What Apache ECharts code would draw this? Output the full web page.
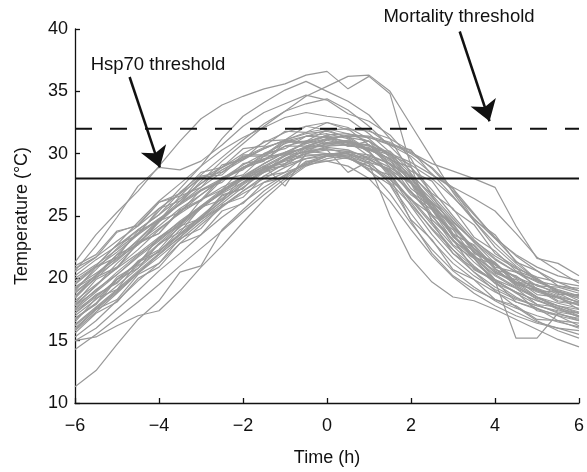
<!DOCTYPE html>
<html>
<head>
<meta charset="utf-8">
<script src="https://cdn.jsdelivr.net/npm/echarts@6/dist/echarts.min.js"></script>
<style>
html,body{margin:0;padding:0;background:#fff;}
#chart{width:587px;height:472px;}
</style>
</head>
<body>
<div id="chart"></div>
<script>
// ---- data ----
const times = [-6,-5.5,-5,-4.5,-4,-3.5,-3,-2.5,-2,-1.5,-1,-0.5,0,0.5,1,1.5,2,2.5,3,3.5,4,4.5,5,5.5,6];
const xTicks = [-6,-4,-2,0,2,4,6];
const yTicks = [10,15,20,25,30,35,40];
const hsp70Threshold = 28;
const mortalityThreshold = 32;
const hspLabel = "Hsp70 threshold";
const mortLabel = "Mortality threshold";
const xTitle = "Time (h)";
const yTitle = "Temperature (°C)";

const t01 = [21.3,23.5,25.3,27.0,29.0,31.0,32.8,33.9,34.6,35.2,35.6,36.3,36.6,35.2,36.2,34.8,29.0,24.5,22.0,20.8,19.8,18.9,18.2,17.6,17.2];
const t02 = [20.6,22.6,24.9,27.4,28.9,28.7,29.4,30.7,32.2,33.3,34.0,34.7,34.3,33.2,32.6,31.5,29.6,26.6,24.1,22.4,21.1,20.1,19.4,18.9,18.4];
const t03 = [19.1,20.7,22.4,23.9,25.1,26.9,28.3,29.7,31.1,32.4,33.4,34.6,35.4,36.2,36.3,35.0,32.3,29.6,26.9,24.6,22.5,21.0,19.8,19.0,18.5];
const t04 = [18.5,20.3,21.9,23.6,25.4,27.2,29.0,31.2,33.0,34.1,35.1,35.8,35.0,34.2,33.1,31.2,28.4,25.9,23.5,21.8,20.6,19.7,18.9,18.4,17.9];
const t05 = [17.8,19.4,21.2,22.7,24.5,26.0,27.8,29.4,30.8,32.2,33.4,34.0,34.4,33.5,32.2,30.6,28.9,27.1,25.0,23.1,21.6,20.5,19.7,19.1,18.6];
const t06 = [19.6,21.0,22.7,24.5,26.2,27.6,29.0,30.3,31.3,32.1,32.9,33.3,33.0,32.8,31.6,30.1,28.0,25.6,23.4,21.8,20.5,19.6,19.0,18.5,18.1];
const t07 = [16.8,18.0,19.4,20.8,22.2,23.6,25.0,26.4,27.7,28.9,29.8,30.6,31.1,31.5,31.4,30.9,30.1,29.2,28.6,28.0,27.3,24.2,21.6,21.2,20.2];
const t08 = [17.5,18.9,20.3,21.7,23.0,24.4,25.7,26.9,28.0,29.0,29.9,30.5,30.9,31.0,30.6,30.0,29.3,28.3,27.3,26.4,25.4,23.6,21.7,20.6,19.6];
const t09 = [16.2,17.6,19.0,20.5,21.9,23.3,24.8,26.2,27.6,28.7,29.6,30.2,30.4,30.0,29.2,25.0,21.6,19.7,18.5,18.2,17.5,16.7,15.9,15.1,14.5];
const t10 = [17.2,18.5,19.9,21.2,22.7,24.1,25.6,26.9,28.1,29.2,30.1,30.8,31.2,31.0,30.2,28.1,24.6,22.0,20.2,19.1,18.3,17.6,17.0,16.5,16.1];
const t11 = [15.8,17.3,18.8,20.4,21.9,23.3,24.7,26.0,27.3,28.5,29.5,30.3,30.8,30.9,30.4,29.4,27.8,25.6,23.4,21.6,19.8,15.2,15.2,17.2,16.6];
const t12 = [11.3,12.6,14.7,16.7,18.2,20.5,21.0,23.9,25.5,27.0,28.2,29.2,29.8,30.0,29.6,28.6,27.0,25.0,23.0,21.3,19.9,18.8,17.9,17.2,16.7];
const t13 = [15.0,15.3,16.2,17.0,17.4,19.0,20.9,22.6,24.5,26.3,27.8,29.0,29.6,29.9,29.5,28.7,27.6,26.0,24.1,22.3,20.8,19.5,18.5,17.8,17.2];
const t14 = [14.3,15.5,16.8,18.1,19.5,21.0,22.4,23.8,25.3,26.7,28.0,29.1,29.8,30.1,29.9,29.2,28.0,26.3,24.3,22.4,20.8,19.4,18.3,17.5,16.9];
const t15 = [18.0,19.9,20.8,22.9,23.6,25.5,26.3,28.1,28.7,30.0,30.4,31.4,31.3,31.4,30.3,29.6,27.2,25.9,23.3,22.2,20.4,19.9,18.7,18.5,17.8];
const t16 = [19.2,20.2,21.9,22.7,24.6,25.3,27.1,27.7,29.2,29.5,30.6,30.6,31.2,30.7,30.7,29.5,28.9,26.8,25.6,23.3,22.2,20.6,20.0,18.9,18.6];
const t17 = [17.2,18.7,19.6,21.4,22.3,24.2,24.8,26.7,27.2,28.8,29.0,30.2,30.0,30.0,28.6,27.5,24.7,23.1,20.7,19.9,18.3,17.8,16.7,16.6,16.0];
const t18 = [20.2,21.5,22.6,23.9,25.1,26.4,27.6,28.7,29.6,30.4,31.1,31.7,32.0,31.6,31.0,30.0,28.4,26.5,24.6,22.9,21.5,20.5,19.8,19.4,19.2];
const t19 = [16.5,18.4,19.1,21.3,22.1,23.9,24.8,26.6,27.2,28.9,29.2,30.5,30.6,31.1,30.3,30.2,28.6,27.8,25.5,24.3,22.0,20.9,19.1,18.5,17.5];
const t20 = [18.8,20.2,21.7,23.0,24.6,26.0,27.3,28.5,29.5,30.4,31.1,31.6,31.8,31.3,30.2,28.4,26.1,23.9,22.0,20.5,19.3,18.4,17.8,17.3,17.0];
const t21 = [15.6,17.2,18.1,20.0,20.9,22.8,23.5,25.4,26.0,27.7,28.1,29.4,29.4,29.7,28.8,28.3,26.3,25.1,22.7,21.6,19.6,18.9,17.4,17.0,16.2];
const t22 = [19.8,21.0,22.7,23.5,25.6,26.2,28.1,28.3,29.8,29.8,31.0,30.8,31.4,30.9,30.7,29.2,28.2,25.7,24.4,22.1,21.3,19.7,19.2,18.2,18.0];
const t23 = [17.6,19.1,20.3,21.8,23.2,24.6,25.8,27.1,28.1,29.0,27.4,30.0,30.5,30.3,29.6,28.5,26.9,25.0,23.1,21.6,20.2,19.2,18.4,17.8,17.3];
const t24 = [20.8,21.7,23.7,24.3,26.1,26.8,28.5,28.9,30.4,30.6,31.8,31.7,32.5,31.9,31.9,30.7,30.3,28.3,27.2,24.7,23.5,21.3,20.6,19.4,19.0];
const t25 = [16.0,17.5,18.9,20.4,21.7,23.1,24.5,25.8,27.0,28.0,28.9,29.6,30.0,29.7,28.7,26.8,24.4,22.3,20.6,19.3,18.2,17.3,16.5,16.0,15.5];
const t26 = [18.4,20.1,20.9,22.8,23.6,25.4,26.2,27.9,28.3,29.8,29.9,31.0,30.8,31.0,29.8,29.2,26.9,25.7,23.5,22.7,20.9,20.5,19.4,19.3,18.8];
const t27 = [17.0,18.3,19.9,21.3,22.8,24.3,25.6,27.0,28.2,29.2,30.1,30.9,31.5,31.6,31.3,30.7,29.8,28.4,26.6,24.6,22.8,21.2,19.9,19.0,18.2];
const t28 = [19.5,20.9,22.1,23.5,24.7,26.0,27.1,28.0,28.9,29.6,30.1,30.4,30.3,28.5,29.4,27.6,25.2,23.0,21.2,19.9,18.9,18.1,17.5,17.1,16.8];
const t29 = [16.8,17.9,19.9,20.8,22.8,23.7,25.7,26.3,28.1,28.5,29.9,30.1,31.1,30.6,30.5,29.1,28.2,25.7,24.3,22.0,21.2,19.5,19.1,18.1,17.9];
const t30 = [20.5,21.7,23.0,24.2,25.6,26.8,28.0,28.9,29.7,30.5,31.0,31.4,31.6,31.2,30.1,28.3,25.8,23.5,21.6,20.2,19.1,18.3,17.8,17.4,17.2];
const t31 = [18.2,19.5,20.8,22.0,23.3,24.5,25.7,26.8,27.7,28.5,29.1,29.6,29.8,29.6,29.0,27.9,26.4,24.5,22.6,21.0,19.6,18.5,17.6,17.0,16.6];
const t32 = [15.3,16.6,18.2,19.8,21.2,22.8,24.3,25.7,27.0,28.2,29.2,30.0,30.6,30.7,30.3,29.6,28.3,26.7,24.8,22.9,21.2,19.7,18.5,17.6,16.9];
const t33 = [19.0,20.9,21.7,23.8,24.6,26.6,27.3,29.1,29.5,31.0,31.1,32.2,31.9,32.0,30.7,30.0,27.6,26.1,23.6,22.6,20.7,20.2,19.0,18.9,18.4];
const t34 = [17.8,19.0,20.5,21.9,23.1,24.4,25.8,26.9,27.9,28.8,29.5,30.0,30.3,30.2,29.7,28.9,27.7,26.1,24.5,23.0,21.8,20.8,20.1,19.7,19.4];
const t35 = [16.3,17.7,19.1,20.6,22.0,23.5,24.9,26.2,27.5,28.6,29.6,30.5,31.2,31.4,31.3,30.8,30.0,28.9,27.2,25.2,23.2,21.4,19.9,18.8,18.0];
const t36 = [21.0,21.9,23.8,24.2,26.1,26.6,28.2,28.5,29.9,29.9,31.1,30.9,31.5,30.8,30.7,28.9,27.7,25.1,23.9,21.7,21.1,19.7,19.5,18.7,18.7];
const t37 = [17.4,18.6,19.7,21.0,22.2,23.5,24.7,25.8,26.8,27.7,28.5,29.1,29.4,29.0,28.0,26.2,23.9,21.8,20.1,18.8,17.8,17.0,16.4,16.0,15.8];
const t38 = [18.6,20.0,21.5,23.1,24.7,26.2,27.6,28.9,30.0,30.9,31.7,32.2,32.5,32.1,31.2,29.7,27.7,25.5,23.4,21.7,20.3,19.3,18.5,18.0,17.6];
const t39 = [15.9,17.5,18.3,20.3,21.2,23.2,24.0,25.9,26.5,28.2,28.5,29.9,29.9,30.2,29.3,28.8,26.7,25.5,23.0,21.9,19.9,19.2,17.9,17.7,17.0];
const t40 = [20.0,21.1,22.3,23.6,24.8,25.9,27.0,27.9,28.8,29.5,30.0,30.5,30.7,30.7,30.4,29.9,29.1,28.0,26.5,24.8,23.2,21.9,20.9,20.2,19.8];
const t41 = [16.7,18.0,20.1,21.1,23.3,24.2,26.3,27.1,28.9,29.4,30.9,31.0,31.9,31.3,31.0,29.1,27.6,24.7,23.1,20.7,19.8,18.1,17.6,16.6,16.4];
const t42 = [19.3,20.4,21.6,22.7,24.0,25.2,26.3,27.3,28.1,28.8,29.4,29.8,30.0,29.7,29.0,27.7,25.9,24.0,22.3,20.9,19.8,18.9,18.2,17.8,17.5];
const t43 = [17.9,19.4,20.9,22.3,23.9,25.3,26.7,28.0,29.1,30.0,30.8,31.4,31.9,32.0,31.8,31.2,30.2,28.8,27.0,25.1,23.3,21.8,20.6,19.7,19.0];
const t44 = [15.0,16.0,17.5,19.0,20.6,22.0,23.5,24.9,26.1,27.3,28.3,29.3,29.9,29.8,29.2,28.0,26.3,24.3,22.3,20.5,19.0,17.7,16.6,15.8,15.2];
const t45 = [18.9,20.2,21.4,22.9,24.2,25.6,26.7,27.9,28.9,29.8,30.6,31.0,31.4,30.6,31.0,29.8,28.1,26.0,24.0,22.4,21.1,20.0,19.2,18.6,18.1];

const traces = [t01,t02,t03,t04,t05,t06,t07,t08,t09,t10,t11,t12,t13,t14,t15,t16,t17,t18,t19,t20,
  t21,t22,t23,t24,t25,t26,t27,t28,t29,t30,t31,t32,t33,t34,t35,t36,t37,t38,t39,t40,t41,t42,t43,t44,t45];

// ---- chart ----
const FONT = "'Liberation Sans', Arial, Helvetica, sans-serif";
const FS = 18;
const FSA = 18.5;
const chart = echarts.init(document.getElementById('chart'), null, {renderer: 'canvas'});
const xMin = xTicks[0], xMax = xTicks[xTicks.length - 1];

const series = traces.map(function (arr) {
  return {
    type: 'line', silent: true, showSymbol: false, symbol: 'none',
    lineStyle: {color: '#999999', width: 1.2},
    data: arr.map(function (v, i) { return [times[i], v]; }),
    z: 2
  };
});
series.push({
  type: 'line', silent: true, showSymbol: false, symbol: 'none',
  lineStyle: {color: '#111', width: 2},
  data: [[xMin, hsp70Threshold], [xMax, hsp70Threshold]], z: 5
});
series.push({
  type: 'line', silent: true, showSymbol: false, symbol: 'none',
  lineStyle: {color: '#111', width: 2, type: [17, 18]},
  data: [[xMin, mortalityThreshold], [xMax, mortalityThreshold]], z: 5
});
// arrows
series.push({
  type: 'line', silent: true, data: [], z: 6,
  markLine: {
    silent: true, animation: false,
    symbol: ['none', 'arrow'], symbolSize: 20,
    lineStyle: {color: '#111', width: 2.5, type: 'solid'},
    label: {show: false},
    data: [
      [{coord: [-4.70, 36.15]}, {coord: [-3.98, 28.9]}],
      [{coord: [3.16, 39.8]}, {coord: [3.87, 32.6]}]
    ]
  }
});

chart.setOption({
  animation: false,
  backgroundColor: '#fff',
  grid: {left: 75, right: 8, top: 29, bottom: 63, containLabel: false},
  xAxis: {
    type: 'value', min: xMin, max: xMax, interval: 2,
    name: xTitle, nameLocation: 'middle', nameGap: 46,
    nameTextStyle: {fontFamily: FONT, fontSize: FS, color: '#111'},
    axisLine: {show: true, onZero: false, lineStyle: {color: '#111', width: 1.3}},
    axisTick: {show: true, inside: true, length: 5, lineStyle: {color: '#111', width: 1.3}},
    axisLabel: {fontFamily: FONT, fontSize: FS, color: '#111', margin: 14,
      formatter: function (v) { return String(v).replace('-', '\u2212'); }},
    splitLine: {show: false}
  },
  yAxis: {
    type: 'value', min: yTicks[0], max: yTicks[yTicks.length - 1], interval: 5,
    name: yTitle, nameLocation: 'middle', nameGap: 44, nameRotate: 90,
    nameTextStyle: {fontFamily: FONT, fontSize: FS, color: '#111'},
    axisLine: {show: true, onZero: false, lineStyle: {color: '#111', width: 1.3}},
    axisTick: {show: true, inside: true, length: 5, lineStyle: {color: '#111', width: 1.3}},
    axisLabel: {fontFamily: FONT, fontSize: FS, color: '#111', margin: 7},
    splitLine: {show: false}
  },
  graphic: [
    {type: 'text', x: 158, y: 65, z: 10, style: {text: hspLabel, font: FSA + 'px ' + FONT, fill: '#111', textAlign: 'center', textVerticalAlign: 'middle'}},
    {type: 'text', x: 459, y: 17, z: 10, style: {text: mortLabel, font: FSA + 'px ' + FONT, fill: '#111', textAlign: 'center', textVerticalAlign: 'middle'}}
  ],
  series: series
});
</script>
</body>
</html>
